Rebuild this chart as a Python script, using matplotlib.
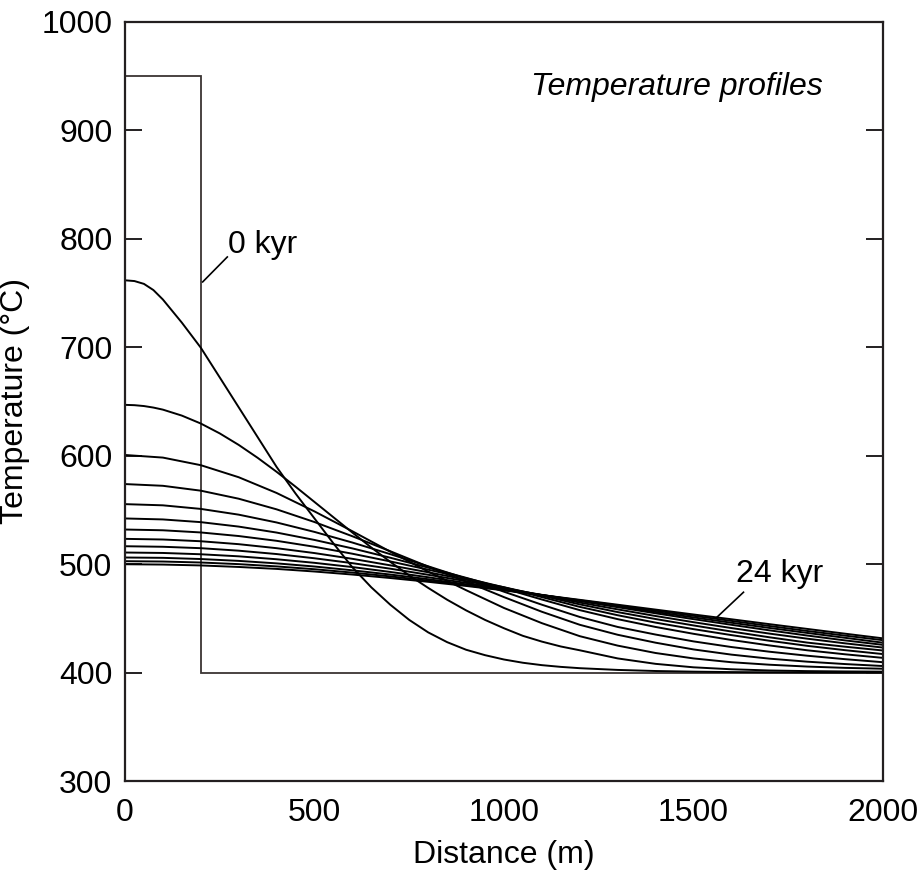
import matplotlib
matplotlib.use("Agg")
import matplotlib.pyplot as plt

plt.rcParams['font.family'] = ['Liberation Sans', 'DejaVu Sans']

# distance grids (m)
distance_fine = [0, 25, 50, 75, 100, 150, 200, 250, 300, 350, 400, 450, 500, 550, 600,
                 650, 700, 750, 800, 850, 900, 950, 1000, 1050, 1100, 1150, 1200,
                 1300, 1400, 1500, 1600, 1700, 1800, 1900, 2000]
distance = [0, 100, 200, 300, 400, 500, 600, 700, 800, 900, 1000,
            1100, 1200, 1300, 1400, 1500, 1600, 1700, 1800, 1900, 2000]

# initial (0 kyr) step profile
step_x = [0, 200, 200, 2000]
step_T = [950, 950, 400, 400]

# early profiles (2 and 4 kyr) on the fine grid
profile_2kyr = [761.5, 760.8, 758.2, 752.5, 743.8, 722.5, 699.4, 672, 644.5, 617, 589.5, 565, 542, 519, 497,
                478.5, 462.5, 448.5, 437, 428, 421, 416, 412, 409, 406.8, 405.2, 404,
                402.4, 401.4, 400.8, 400.4, 400.2, 400.1, 400, 400]
profile_4kyr = [646.7, 646.4, 645.6, 644.2, 642.3, 636.8, 629.5, 620.4, 609.8, 597.9, 585, 571.3, 557.2, 543.1, 529,
                515.2, 502, 489.5, 478, 467.1, 457.3, 448.5, 440.8, 433.8, 428.5, 424, 420.5,
                413, 408, 404.8, 403, 401.9, 401.3, 401, 400.8]

# later profiles (2 kyr apart) on the 100 m grid
later_profiles = [
    [600.5, 598.1, 591.1, 580, 565.5, 548.5, 530.2, 511.4, 493, 475.9, 459.5, 445.5, 433.5, 424.8, 418, 413, 409.5, 407.2, 405.5, 404.3, 403.5],
    [573.7, 572.1, 567.6, 560.2, 550.4, 538.7, 525.6, 511.8, 497.6, 483.8, 469.5, 456, 444, 434.8, 427.5, 421.3, 416.5, 412.8, 410, 407.8, 406],
    [555.2, 554.1, 550.8, 545.5, 538.3, 529.6, 519.8, 509.1, 497.9, 486.6, 474.5, 462.5, 451.2, 442, 435, 428.7, 423.5, 419.2, 415.5, 412.3, 409.5],
    [542, 541.1, 538.6, 534.5, 529, 522.2, 514.4, 505.8, 496.7, 487.3, 477.5, 467.3, 457.5, 449.2, 442, 435.7, 430, 425, 420.5, 416.8, 413.5],
    [531.8, 531.1, 529.1, 525.8, 521.4, 515.9, 509.5, 502.4, 494.8, 486.9, 478.5, 469.5, 460.5, 452.8, 446, 440, 434.5, 429.3, 424.6, 420.6, 417],
    [523.2, 522.6, 521, 518.3, 514.6, 510.1, 504.8, 498.8, 492.4, 485.6, 478.6, 470.8, 462.8, 455.7, 449.3, 443.4, 437.8, 432.5, 427.6, 423.8, 420.3],
    [516.4, 515.9, 514.6, 512.3, 509.2, 505.3, 500.8, 495.7, 490.1, 484.2, 478, 471.3, 464.5, 458.2, 452.1, 446.4, 441, 435.9, 431.2, 426.9, 423],
    [510.6, 510.2, 509, 507.1, 504.4, 501.1, 497.2, 492.7, 487.8, 482.6, 477.2, 471.6, 465.9, 460.2, 454.6, 449.2, 444, 438.9, 434.1, 429.6, 425.5],
    [506, 505.7, 504.6, 502.9, 500.6, 497.7, 494.2, 490.3, 486, 481.3, 476.4, 471.3, 466.2, 461, 455.8, 450.8, 445.9, 441.1, 436.5, 432, 427.5],
    [502.6, 502.3, 501.4, 499.9, 497.8, 495.2, 492.1, 488.6, 484.7, 480.5, 476, 471.4, 466.6, 461.8, 457, 452.3, 447.6, 442.9, 438.3, 434, 429.8],
    [499.8, 499.5, 498.7, 497.3, 495.5, 493.1, 490.3, 487.1, 483.6, 479.8, 475.7, 471.4, 467, 462.5, 458, 453.5, 449.1, 444.6, 440.2, 435.8, 431.5],
]

x_ticks = [0, 500, 1000, 1500, 2000]
y_ticks = [300, 400, 500, 600, 700, 800, 900, 1000]

ink = '#231f20'
fs = 23

fig = plt.figure(figsize=(9.21, 8.75), dpi=100)
ax = fig.add_axes([0.1357, 0.1074, 0.8230, 0.8680])

ax.plot(step_x, step_T, color='#3a3433', lw=1.3, solid_joinstyle='miter')
ax.plot(distance_fine, profile_2kyr, color='black', lw=1.4)
ax.plot(distance_fine, profile_4kyr, color='black', lw=1.4)
for T in later_profiles:
    ax.plot(distance, T, color='black', lw=1.4)

ax.set_xlim(0, 2000)
ax.set_ylim(300, 1000)
ax.set_xticks(x_ticks)
ax.set_yticks(y_ticks)
ax.tick_params(axis='y', direction='in', length=12, width=1.4, color=ink,
               labelsize=fs, left=True, right=True, pad=9)
ax.tick_params(axis='x', direction='in', length=0, labelsize=fs, pad=12,
               top=False, bottom=True)
for s in ax.spines.values():
    s.set_linewidth(1.6)
    s.set_color(ink)

ax.set_xlabel('Distance (m)', fontsize=fs, labelpad=9)
ax.set_ylabel('Temperature (°C)', fontsize=fs, labelpad=8)

ax.text(1840, 940, 'Temperature profiles', fontsize=fs, style='italic',
        ha='right', va='center')
ax.text(272, 794, '0 kyr', fontsize=fs, ha='left', va='center')
ax.plot([205, 270], [760, 783], color='black', lw=1.2)
ax.text(1612, 491, '24 kyr', fontsize=fs, ha='left', va='center')
ax.plot([1562, 1632], [451, 474], color='black', lw=1.2)

fig.savefig('out.png', dpi=100)
